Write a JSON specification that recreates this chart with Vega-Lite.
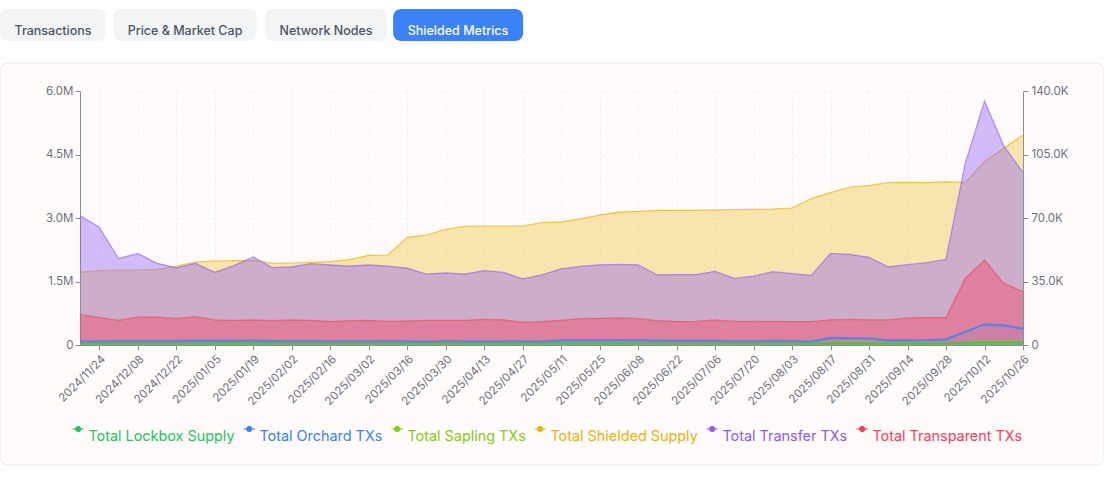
{"$schema":"https://vega.github.io/schema/vega-lite/v6.json","width":943,"height":254,"autosize":{"type":"none"},"padding":{"left":80,"top":91,"right":81,"bottom":149},"background":"#ffffff","config":{"view":{"stroke":null},"font":"Inter","text":{"font":"Inter"}},
"datasets":{"weekly":[
{"date":"2024/11/17","Total Lockbox Supply":40000,"Total Orchard TXs":1900,"Total Sapling TXs":1000,"Total Shielded Supply":1717000,"Total Transfer TXs":71300,"Total Transparent TXs":16700},
{"date":"2024/11/24","Total Lockbox Supply":42000,"Total Orchard TXs":2000,"Total Sapling TXs":1000,"Total Shielded Supply":1756000,"Total Transfer TXs":64900,"Total Transparent TXs":15200},
{"date":"2024/12/01","Total Lockbox Supply":45000,"Total Orchard TXs":2200,"Total Sapling TXs":1100,"Total Shielded Supply":1772000,"Total Transfer TXs":47600,"Total Transparent TXs":13600},
{"date":"2024/12/08","Total Lockbox Supply":45000,"Total Orchard TXs":2100,"Total Sapling TXs":1100,"Total Shielded Supply":1772000,"Total Transfer TXs":50500,"Total Transparent TXs":15400},
{"date":"2024/12/15","Total Lockbox Supply":46000,"Total Orchard TXs":2100,"Total Sapling TXs":1000,"Total Shielded Supply":1780000,"Total Transfer TXs":45000,"Total Transparent TXs":15400},
{"date":"2024/12/22","Total Lockbox Supply":46000,"Total Orchard TXs":2100,"Total Sapling TXs":1000,"Total Shielded Supply":1866000,"Total Transfer TXs":42600,"Total Transparent TXs":14500},
{"date":"2024/12/29","Total Lockbox Supply":50000,"Total Orchard TXs":2400,"Total Sapling TXs":1100,"Total Shielded Supply":1960000,"Total Transfer TXs":45000,"Total Transparent TXs":15600},
{"date":"2025/01/05","Total Lockbox Supply":50000,"Total Orchard TXs":2300,"Total Sapling TXs":1100,"Total Shielded Supply":1984000,"Total Transfer TXs":40000,"Total Transparent TXs":13800},
{"date":"2025/01/12","Total Lockbox Supply":52000,"Total Orchard TXs":2300,"Total Sapling TXs":1200,"Total Shielded Supply":1992000,"Total Transfer TXs":43700,"Total Transparent TXs":13600},
{"date":"2025/01/19","Total Lockbox Supply":55000,"Total Orchard TXs":2400,"Total Sapling TXs":1200,"Total Shielded Supply":2000000,"Total Transfer TXs":48500,"Total Transparent TXs":13800},
{"date":"2025/01/26","Total Lockbox Supply":48000,"Total Orchard TXs":2100,"Total Sapling TXs":1000,"Total Shielded Supply":1930000,"Total Transfer TXs":42600,"Total Transparent TXs":13400},
{"date":"2025/02/02","Total Lockbox Supply":46000,"Total Orchard TXs":2100,"Total Sapling TXs":1000,"Total Shielded Supply":1937000,"Total Transfer TXs":43000,"Total Transparent TXs":13800},
{"date":"2025/02/09","Total Lockbox Supply":46000,"Total Orchard TXs":2100,"Total Sapling TXs":1000,"Total Shielded Supply":1953000,"Total Transfer TXs":44800,"Total Transparent TXs":13600},
{"date":"2025/02/16","Total Lockbox Supply":46000,"Total Orchard TXs":2000,"Total Sapling TXs":1000,"Total Shielded Supply":1968000,"Total Transfer TXs":44100,"Total Transparent TXs":12900},
{"date":"2025/02/23","Total Lockbox Supply":45000,"Total Orchard TXs":2000,"Total Sapling TXs":1000,"Total Shielded Supply":2016000,"Total Transfer TXs":43500,"Total Transparent TXs":13400},
{"date":"2025/03/02","Total Lockbox Supply":45000,"Total Orchard TXs":2000,"Total Sapling TXs":1000,"Total Shielded Supply":2118000,"Total Transfer TXs":44100,"Total Transparent TXs":13600},
{"date":"2025/03/09","Total Lockbox Supply":46000,"Total Orchard TXs":2100,"Total Sapling TXs":1000,"Total Shielded Supply":2126000,"Total Transfer TXs":43500,"Total Transparent TXs":13000},
{"date":"2025/03/16","Total Lockbox Supply":44000,"Total Orchard TXs":2000,"Total Sapling TXs":1000,"Total Shielded Supply":2543000,"Total Transfer TXs":42300,"Total Transparent TXs":13200},
{"date":"2025/03/23","Total Lockbox Supply":42000,"Total Orchard TXs":1800,"Total Sapling TXs":900,"Total Shielded Supply":2598000,"Total Transfer TXs":39100,"Total Transparent TXs":13600},
{"date":"2025/03/30","Total Lockbox Supply":46000,"Total Orchard TXs":2200,"Total Sapling TXs":1000,"Total Shielded Supply":2732000,"Total Transfer TXs":39800,"Total Transparent TXs":13600},
{"date":"2025/04/06","Total Lockbox Supply":44000,"Total Orchard TXs":2000,"Total Sapling TXs":1000,"Total Shielded Supply":2803000,"Total Transfer TXs":39000,"Total Transparent TXs":13600},
{"date":"2025/04/13","Total Lockbox Supply":42000,"Total Orchard TXs":1900,"Total Sapling TXs":1000,"Total Shielded Supply":2811000,"Total Transfer TXs":41000,"Total Transparent TXs":14100},
{"date":"2025/04/20","Total Lockbox Supply":44000,"Total Orchard TXs":2000,"Total Sapling TXs":1000,"Total Shielded Supply":2811000,"Total Transfer TXs":40000,"Total Transparent TXs":13800},
{"date":"2025/04/27","Total Lockbox Supply":44000,"Total Orchard TXs":2000,"Total Sapling TXs":1000,"Total Shielded Supply":2811000,"Total Transfer TXs":36500,"Total Transparent TXs":12500},
{"date":"2025/05/04","Total Lockbox Supply":42000,"Total Orchard TXs":1900,"Total Sapling TXs":1000,"Total Shielded Supply":2890000,"Total Transfer TXs":38600,"Total Transparent TXs":12900},
{"date":"2025/05/11","Total Lockbox Supply":50000,"Total Orchard TXs":2600,"Total Sapling TXs":1100,"Total Shielded Supply":2910000,"Total Transfer TXs":42000,"Total Transparent TXs":13600},
{"date":"2025/05/18","Total Lockbox Supply":50000,"Total Orchard TXs":2600,"Total Sapling TXs":1100,"Total Shielded Supply":2980000,"Total Transfer TXs":43300,"Total Transparent TXs":14500},
{"date":"2025/05/25","Total Lockbox Supply":50000,"Total Orchard TXs":2600,"Total Sapling TXs":1200,"Total Shielded Supply":3070000,"Total Transfer TXs":44200,"Total Transparent TXs":14700},
{"date":"2025/06/01","Total Lockbox Supply":52000,"Total Orchard TXs":2700,"Total Sapling TXs":1200,"Total Shielded Supply":3140000,"Total Transfer TXs":44400,"Total Transparent TXs":15000},
{"date":"2025/06/08","Total Lockbox Supply":50000,"Total Orchard TXs":2600,"Total Sapling TXs":1200,"Total Shielded Supply":3157000,"Total Transfer TXs":44100,"Total Transparent TXs":14500},
{"date":"2025/06/15","Total Lockbox Supply":48000,"Total Orchard TXs":2400,"Total Sapling TXs":1100,"Total Shielded Supply":3181000,"Total Transfer TXs":38600,"Total Transparent TXs":13400},
{"date":"2025/06/22","Total Lockbox Supply":46000,"Total Orchard TXs":2300,"Total Sapling TXs":1000,"Total Shielded Supply":3180000,"Total Transfer TXs":38800,"Total Transparent TXs":12900},
{"date":"2025/06/29","Total Lockbox Supply":46000,"Total Orchard TXs":2300,"Total Sapling TXs":1000,"Total Shielded Supply":3180000,"Total Transfer TXs":38800,"Total Transparent TXs":13000},
{"date":"2025/07/06","Total Lockbox Supply":46000,"Total Orchard TXs":2300,"Total Sapling TXs":1000,"Total Shielded Supply":3190000,"Total Transfer TXs":40600,"Total Transparent TXs":13800},
{"date":"2025/07/13","Total Lockbox Supply":42000,"Total Orchard TXs":2000,"Total Sapling TXs":1000,"Total Shielded Supply":3197000,"Total Transfer TXs":36700,"Total Transparent TXs":13000},
{"date":"2025/07/20","Total Lockbox Supply":42000,"Total Orchard TXs":2000,"Total Sapling TXs":1000,"Total Shielded Supply":3205000,"Total Transfer TXs":38000,"Total Transparent TXs":13000},
{"date":"2025/07/27","Total Lockbox Supply":46000,"Total Orchard TXs":2300,"Total Sapling TXs":1100,"Total Shielded Supply":3210000,"Total Transfer TXs":40400,"Total Transparent TXs":13000},
{"date":"2025/08/03","Total Lockbox Supply":44000,"Total Orchard TXs":2100,"Total Sapling TXs":1000,"Total Shielded Supply":3236000,"Total Transfer TXs":39300,"Total Transparent TXs":12900},
{"date":"2025/08/10","Total Lockbox Supply":44000,"Total Orchard TXs":1900,"Total Sapling TXs":1000,"Total Shielded Supply":3457000,"Total Transfer TXs":38400,"Total Transparent TXs":12900},
{"date":"2025/08/17","Total Lockbox Supply":48000,"Total Orchard TXs":3900,"Total Sapling TXs":1800,"Total Shielded Supply":3598000,"Total Transfer TXs":50500,"Total Transparent TXs":13800},
{"date":"2025/08/24","Total Lockbox Supply":48000,"Total Orchard TXs":3700,"Total Sapling TXs":1800,"Total Shielded Supply":3732000,"Total Transfer TXs":50000,"Total Transparent TXs":14100},
{"date":"2025/08/31","Total Lockbox Supply":48000,"Total Orchard TXs":3700,"Total Sapling TXs":1800,"Total Shielded Supply":3764000,"Total Transfer TXs":48300,"Total Transparent TXs":13800},
{"date":"2025/09/07","Total Lockbox Supply":46000,"Total Orchard TXs":2600,"Total Sapling TXs":1300,"Total Shielded Supply":3835000,"Total Transfer TXs":43000,"Total Transparent TXs":13800},
{"date":"2025/09/14","Total Lockbox Supply":46000,"Total Orchard TXs":2600,"Total Sapling TXs":1300,"Total Shielded Supply":3842000,"Total Transfer TXs":44300,"Total Transparent TXs":14900},
{"date":"2025/09/21","Total Lockbox Supply":46000,"Total Orchard TXs":2700,"Total Sapling TXs":1300,"Total Shielded Supply":3835000,"Total Transfer TXs":45400,"Total Transparent TXs":15100},
{"date":"2025/09/28","Total Lockbox Supply":46000,"Total Orchard TXs":3100,"Total Sapling TXs":1300,"Total Shielded Supply":3858000,"Total Transfer TXs":47200,"Total Transparent TXs":15100},
{"date":"2025/10/05","Total Lockbox Supply":60000,"Total Orchard TXs":7300,"Total Sapling TXs":1800,"Total Shielded Supply":3835000,"Total Transfer TXs":100100,"Total Transparent TXs":36700},
{"date":"2025/10/12","Total Lockbox Supply":70000,"Total Orchard TXs":11400,"Total Sapling TXs":2300,"Total Shielded Supply":4330000,"Total Transfer TXs":134400,"Total Transparent TXs":46700},
{"date":"2025/10/19","Total Lockbox Supply":70000,"Total Orchard TXs":10800,"Total Sapling TXs":2300,"Total Shielded Supply":4646000,"Total Transfer TXs":109800,"Total Transparent TXs":34000},
{"date":"2025/10/26","Total Lockbox Supply":72000,"Total Orchard TXs":9000,"Total Sapling TXs":2300,"Total Shielded Supply":4960000,"Total Transfer TXs":95000,"Total Transparent TXs":29400}
],"tabs":[
{"tab":"Transactions","order":1,"selected":false},
{"tab":"Price & Market Cap","order":2,"selected":false},
{"tab":"Network Nodes","order":3,"selected":false},
{"tab":"Shielded Metrics","order":4,"selected":true}
]},
"data":{"name":"weekly"},
"resolve":{"scale":{"x":"independent","y":"independent"},"axis":{"x":"independent","y":"independent"}},
"layer":[
{"data":{"values":[{"panel":"card"}]},"mark":{"type":"rect","fill":"#ef4444","fillOpacity":0.025,"stroke":"#f1e7e7","strokeWidth":1,"cornerRadius":8},
"encoding":{"x":{"datum":0,"type":"quantitative","scale":{"domain":[0,1],"range":[-80,1024]},"axis":null},"x2":{"datum":1},"y":{"datum":0,"type":"quantitative","scale":{"domain":[0,1],"range":[374,-28]},"axis":null},"y2":{"datum":1}}},
{"data":{"name":"tabs"},"mark":{"type":"bar","orient":"vertical","cornerRadius":8},
"encoding":{"x":{"field":"order","type":"quantitative","scale":{"domain":[1,2,3,4],"range":[-32,105,246,383]},"axis":null},"y":{"datum":0,"type":"quantitative","scale":{"domain":[0,1],"range":[-50,-82]},"axis":null},"y2":{"datum":1},"size":{"field":"order","type":"quantitative","scale":{"domain":[1,2,3,4],"range":[106,143,122,130]},"legend":null},"color":{"condition":{"test":"datum.selected","value":"#3b82f6"},"value":"#f3f4f6"}}},
{"data":{"name":"tabs"},"mark":{"type":"text","font":"Inter","fontSize":12.5,"fontWeight":500,"baseline":"middle"},
"encoding":{"x":{"field":"order","type":"quantitative","scale":{"domain":[1,2,3,4],"range":[-27,105,246,378]},"axis":null},"y":{"datum":0.31,"type":"quantitative","scale":{"domain":[0,1],"range":[-50,-82]},"axis":null},"text":{"field":"tab"},"color":{"condition":{"test":"datum.selected","value":"#ffffff"},"value":"#4b5563"}}},
{"transform":[{"fold":["Total Shielded Supply"],"as":["series","amount"]}],"mark":{"type":"area","opacity":0.32},
"encoding":{"x":{"field":"date","type":"ordinal","scale":{"type":"point","padding":0},"axis":{"values":["2024/11/24","2024/12/08","2024/12/22","2025/01/05","2025/01/19","2025/02/02","2025/02/16","2025/03/02","2025/03/16","2025/03/30","2025/04/13","2025/04/27","2025/05/11","2025/05/25","2025/06/08","2025/06/22","2025/07/06","2025/07/20","2025/08/03","2025/08/17","2025/08/31","2025/09/14","2025/09/28","2025/10/12","2025/10/26"],"title":null,"labelAngle":-45,"labelAlign":"right","labelBaseline":"top","labelFont":"Inter","labelFontSize":11.5,"labelColor":"#6b7280","labelOverlap":false,"labelPadding":3,"tickSize":5,"tickColor":"#8c8f96","domainColor":"#8c8f96","grid":true,"gridColor":"#f6f2f2","gridDash":[3,3],"zindex":0}},
"y":{"field":"amount","type":"quantitative","stack":null,"scale":{"domain":[0,6000000]},"axis":{"orient":"left","values":[0,1500000,3000000,4500000,6000000],"title":null,"labelExpr":"datum.value==0?'0':format(datum.value/1000000,'.1f')+'M'","labelFont":"Inter","labelFontSize":11.5,"labelColor":"#6b7280","labelPadding":2,"tickSize":5,"tickColor":"#8c8f96","domainColor":"#8c8f96","grid":true,"gridColor":"#f8f4f4","gridDash":[3,3],"zindex":0}},
"color":{"field":"series","type":"nominal","scale":{"domain":["Total Lockbox Supply","Total Orchard TXs","Total Sapling TXs","Total Shielded Supply","Total Transfer TXs","Total Transparent TXs"],"range":["#22c55e","#3b82f6","#84cc16","#eab308","#8b5cf6","#f43f5e"]},"legend":{"title":null,"orient":"none","legendX":-9,"legendY":339,"direction":"horizontal","columns":6,"gridAlign":"each","columnPadding":6,"labelFont":"Inter","labelFontSize":14.4,"labelOffset":3,"symbolSize":144,"symbolStrokeWidth":1,"symbolFillColor":"#fefafa","symbolType":"M-0.95 -1.4L-0.45 -1.4M0.45 -1.4L0.95 -1.4M0.45 -1.4A0.45 0.45 0 1 0 -0.45 -1.4A0.45 0.45 0 1 0 0.45 -1.4","encoding":{"labels":{"fill":{"value":{"expr":"scale('color',datum.value)"}}},"symbols":{"fill":{"value":"#fefafa"},"stroke":{"value":{"expr":"scale('color',datum.value)"}},"opacity":{"value":1}}}}}}},
{"transform":[{"fold":["Total Shielded Supply"],"as":["series","amount"]}],"mark":{"type":"line","strokeWidth":1.2,"opacity":0.7},
"encoding":{"x":{"field":"date","type":"ordinal","scale":{"type":"point","padding":0},"axis":null},"y":{"field":"amount","type":"quantitative","scale":{"domain":[0,6000000]},"axis":null},"color":{"field":"series","type":"nominal"}}},
{"transform":[{"fold":["Total Transfer TXs","Total Transparent TXs"],"as":["series","amount"]}],"mark":{"type":"area","opacity":0.4},
"encoding":{"x":{"field":"date","type":"ordinal","scale":{"type":"point","padding":0},"axis":null},"y":{"field":"amount","type":"quantitative","stack":null,"scale":{"domain":[0,140000]},"axis":{"orient":"right","values":[0,35000,70000,105000,140000],"title":null,"labelExpr":"datum.value==0?'0':format(datum.value/1000,'.1f')+'K'","labelFont":"Inter","labelFontSize":11.5,"labelColor":"#6b7280","labelPadding":3,"tickSize":5,"tickColor":"#8c8f96","domainColor":"#8c8f96","grid":false,"zindex":1}},"color":{"field":"series","type":"nominal"}}},
{"transform":[{"fold":["Total Transfer TXs","Total Transparent TXs"],"as":["series","amount"]}],"mark":{"type":"line","strokeWidth":1.3,"opacity":0.6},
"encoding":{"x":{"field":"date","type":"ordinal","scale":{"type":"point","padding":0},"axis":null},"y":{"field":"amount","type":"quantitative","scale":{"domain":[0,140000]},"axis":null},"color":{"field":"series","type":"nominal"}}},
{"transform":[{"fold":["Total Orchard TXs"],"as":["series","amount"]}],"mark":{"type":"area","opacity":0.1},
"encoding":{"x":{"field":"date","type":"ordinal","scale":{"type":"point","padding":0},"axis":null},"y":{"field":"amount","type":"quantitative","stack":null,"scale":{"domain":[0,140000]},"axis":null},"color":{"field":"series","type":"nominal"}}},
{"transform":[{"fold":["Total Orchard TXs"],"as":["series","amount"]}],"mark":{"type":"line","strokeWidth":2.2,"opacity":0.8},
"encoding":{"x":{"field":"date","type":"ordinal","scale":{"type":"point","padding":0},"axis":null},"y":{"field":"amount","type":"quantitative","scale":{"domain":[0,140000]},"axis":null},"color":{"field":"series","type":"nominal"}}},
{"transform":[{"fold":["Total Sapling TXs"],"as":["series","amount"]}],"mark":{"type":"area","opacity":0.4},
"encoding":{"x":{"field":"date","type":"ordinal","scale":{"type":"point","padding":0},"axis":null},"y":{"field":"amount","type":"quantitative","stack":null,"scale":{"domain":[0,140000]},"axis":null},"color":{"field":"series","type":"nominal"}}},
{"transform":[{"fold":["Total Sapling TXs"],"as":["series","amount"]}],"mark":{"type":"line","strokeWidth":1.2,"opacity":0.7},
"encoding":{"x":{"field":"date","type":"ordinal","scale":{"type":"point","padding":0},"axis":null},"y":{"field":"amount","type":"quantitative","scale":{"domain":[0,140000]},"axis":null},"color":{"field":"series","type":"nominal"}}},
{"transform":[{"fold":["Total Lockbox Supply"],"as":["series","amount"]}],"mark":{"type":"area","opacity":0.4},
"encoding":{"x":{"field":"date","type":"ordinal","scale":{"type":"point","padding":0},"axis":null},"y":{"field":"amount","type":"quantitative","stack":null,"scale":{"domain":[0,6000000]},"axis":null},"color":{"field":"series","type":"nominal"}}},
{"transform":[{"fold":["Total Lockbox Supply"],"as":["series","amount"]}],"mark":{"type":"line","strokeWidth":1.2,"opacity":0.7},
"encoding":{"x":{"field":"date","type":"ordinal","scale":{"type":"point","padding":0},"axis":null},"y":{"field":"amount","type":"quantitative","scale":{"domain":[0,6000000]},"axis":null},"color":{"field":"series","type":"nominal"}}}
]}
